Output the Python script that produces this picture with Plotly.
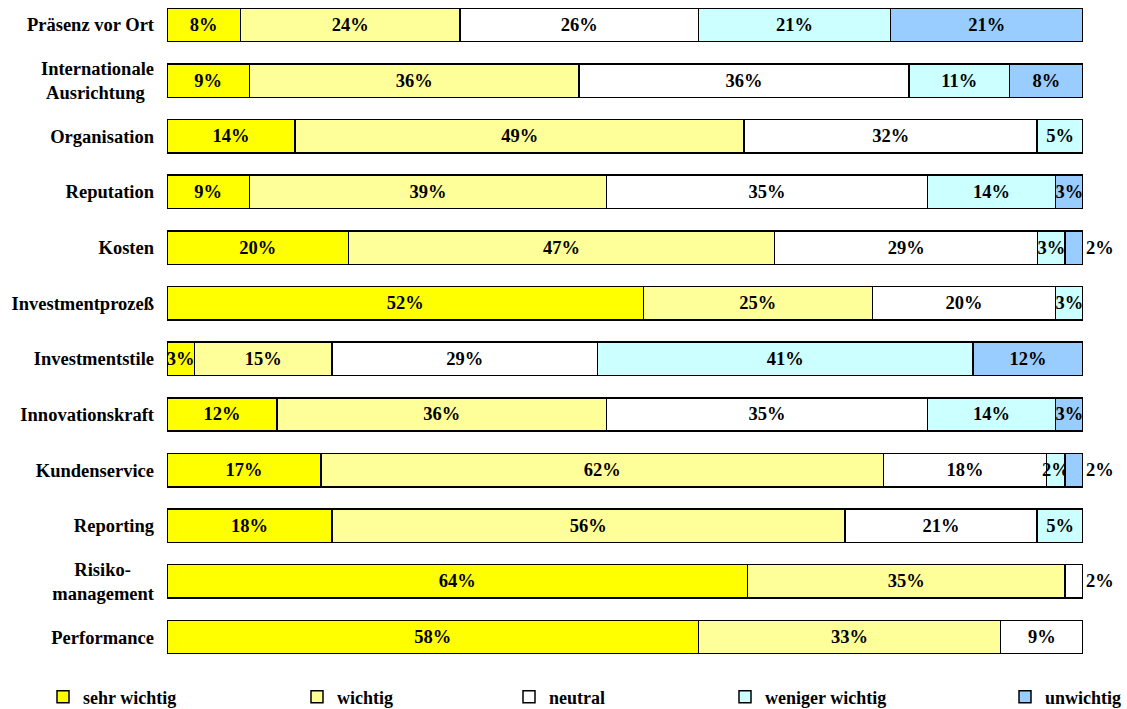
import plotly.graph_objects as go

NB = "\u00a0"
categories = ["Präsenz vor Ort", "Internationale<br>Ausrichtung" + NB * 2, "Organisation", "Reputation",
              "Kosten", "Investmentprozeß", "Investmentstile", "Innovationskraft",
              "Kundenservice", "Reporting", "Risiko-" + NB * 5 + "<br>management", "Performance"]

series_names = ["sehr wichtig", "wichtig", "neutral", "weniger wichtig", "unwichtig"]
sehr_wichtig = [8, 9, 14, 9, 20, 52, 3, 12, 17, 18, 64, 58]
wichtig = [24, 36, 49, 39, 47, 25, 15, 36, 62, 56, 35, 33]
neutral = [26, 36, 32, 35, 29, 20, 29, 35, 18, 21, 2, 9]
weniger_wichtig = [21, 11, 5, 14, 3, 3, 41, 14, 2, 5, None, None]
unwichtig = [21, 8, None, 3, 2, None, 12, 3, 2, None, None, None]

colors = ["#FFFF00", "#FFFF99", "#FFFFFF", "#CCFFFF", "#99CCFF"]
legend_text_px = [83, 337, 549, 765, 1045]

L, R, T, B = 167, 44, 5, 49
W, H = 1127, 709

all_series = [sehr_wichtig, wichtig, neutral, weniger_wichtig, unwichtig]

fig = go.Figure()
font_family = "Liberation Serif"
lbl_font = dict(family=font_family, size=18.5, color="black", weight="bold")
for k, (name, vals, col) in enumerate(zip(series_names, all_series, colors)):
    texts = [("" if v is None else f"{v}%") for v in vals]
    positions = []
    for i, v in enumerate(vals):
        later = [all_series[m][i] for m in range(k + 1, 5)]
        is_last = all(x is None for x in later)
        positions.append("outside" if (v is not None and v <= 2 and is_last) else "inside")
    fig.add_trace(go.Bar(
        name=name, y=categories, x=vals, orientation="h",
        marker=dict(color=col, line=dict(color="black", width=1.5)),
        text=texts, textposition=positions, textangle=0,
        insidetextanchor="middle", constraintext="none", cliponaxis=False,
        textfont=lbl_font, insidetextfont=lbl_font, outsidetextfont=lbl_font,
        legend="legend" if k == 0 else f"legend{k+1}",
        hoverinfo="skip",
    ))

layout_legends = {}
for k, name in enumerate(series_names):
    key = "legend" if k == 0 else f"legend{k+1}"
    layout_legends[key] = dict(
        x=(legend_text_px[k] - 40) / W, xanchor="left", xref="container",
        y=1 - 697 / H, yanchor="middle", yref="container",
        orientation="h", bgcolor="rgba(0,0,0,0)",
        font=dict(family=font_family, size=18, color="black", weight="bold"),
        itemwidth=30, tracegroupgap=0,
    )

fig.update_layout(
    width=W, height=H,
    margin=dict(l=L, r=R, t=T, b=B, autoexpand=False),
    barmode="stack", barnorm="percent", bargap=0.4,
    plot_bgcolor="white", paper_bgcolor="white",
    xaxis=dict(range=[0, 100], visible=False, fixedrange=True),
    yaxis=dict(categoryorder="array", categoryarray=categories,
               range=[11.413, -0.3595], showline=False, showgrid=False,
               ticks="", ticklabelstandoff=12, fixedrange=True,
               tickfont=dict(family=font_family, size=18.5, color="black", weight="bold")),
    font=dict(family=font_family, size=18, color="black"),
    showlegend=True,
    hovermode=False,
    **layout_legends,
)

fig.write_html("out.html", config={"displayModeBar": False},
               post_script="document.body.style.margin='0';")
